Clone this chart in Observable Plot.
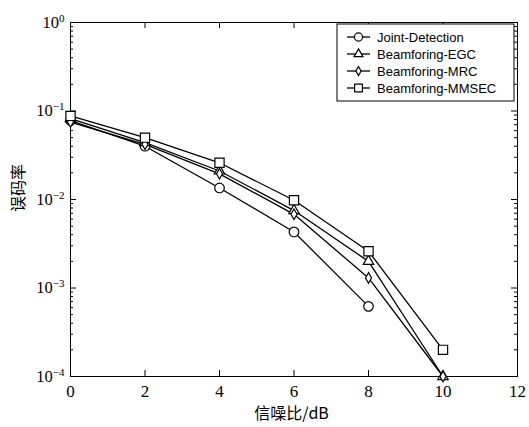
<!DOCTYPE html>
<html><head><meta charset="utf-8">
<script src="https://cdn.jsdelivr.net/npm/d3@7"></script>
<script src="https://cdn.jsdelivr.net/npm/@observablehq/plot@0.6"></script>
<style>
body{margin:0;background:#fff;}
#chart{width:529px;height:427px;}
</style></head><body><div id="chart"></div>
<script>
// ---- data ----
const snr = [0, 2, 4, 6, 8, 10];
const seriesNames = ["Joint-Detection", "Beamforing-EGC", "Beamforing-MRC", "Beamforing-MMSEC"];
const jointDetection = [0.078, 0.040, 0.0135, 0.0043, 0.00062];
const egc = [0.082, 0.044, 0.021, 0.0075, 0.0020, 0.0001];
const mrc = [0.075, 0.042, 0.0195, 0.0068, 0.0013, 0.0001];
const mmsec = [0.088, 0.050, 0.026, 0.0098, 0.0026, 0.0002];
const xTicks = [0, 2, 4, 6, 8, 10, 12];
const yTicks = [1, 0.1, 0.01, 0.001, 0.0001];
const yTickLabels = ["10^0", "10^-1", "10^-2", "10^-3", "10^-4"];
const xLabel = "信噪比/dB";
const yLabel = "误码率";

// ---- styling ----
const symbols = ["circle", "triangle", "diamond", "square"];
const radii = [4.8, 3.9, 3.2, 5.2];
const W = 529, H = 427, mL = 70, mR = 12, mT = 22, mB = 51;
const plotW = W - mL - mR, plotH = H - mT - mB;

const allSeries = [jointDetection, egc, mrc, mmsec];
const rows = [];
allSeries.forEach((vals, s) => vals.forEach((v, i) => rows.push({series: seriesNames[s], s, x: snr[i], y: v})));

const yMinor = [];
for (let e = -4; e < 0; e++) for (let m = 2; m <= 9; m++) yMinor.push(m * Math.pow(10, e));

const marks = [
  Plot.frame({stroke: "black", strokeWidth: 1}),
  // inward ticks (MATLAB style)
  Plot.tickX(xTicks, {x: d => d, insetTop: plotH - 6, stroke: "black"}),
  Plot.tickX(xTicks, {x: d => d, insetBottom: plotH - 6, stroke: "black"}),
  Plot.tickY(yTicks, {y: d => d, insetRight: plotW - 6, stroke: "black"}),
  Plot.tickY(yTicks, {y: d => d, insetLeft: plotW - 6, stroke: "black"}),
  Plot.tickY(yMinor, {y: d => d, insetRight: plotW - 3, stroke: "black"}),
  Plot.tickY(yMinor, {y: d => d, insetLeft: plotW - 3, stroke: "black"}),
  Plot.axisX({ticks: xTicks, tickSize: 0, tickPadding: 8, fontSize: 17, label: null}),
  Plot.axisY({ticks: yTicks, tickSize: 0, tickPadding: 6, fontSize: 16.5, label: null,
    tickFormat: d => yTickLabels[yTicks.findIndex(t => Math.abs(Math.log10(t) - Math.log10(d)) < 1e-6)]}),
  Plot.line(rows, {x: "x", y: "y", z: "series", stroke: "black", strokeWidth: 1.3})
];
symbols.forEach((sym, s) => {
  marks.push(Plot.dot(rows.filter(d => d.s === s), {x: "x", y: "y", symbol: sym, r: radii[s], fill: "white", stroke: "black", strokeWidth: 1.2}));
});

const chart = Plot.plot({
  width: W, height: H,
  marginLeft: mL, marginRight: mR, marginTop: mT, marginBottom: mB,
  style: {fontFamily: "Liberation Serif", background: "white", color: "black"},
  x: {domain: [0, 12], axis: null},
  y: {type: "log", domain: [1e-4, 1], axis: null},
  marks
});
document.getElementById("chart").appendChild(chart);
const svg = d3.select(chart);

// superscript exponents on y tick labels
svg.selectAll('[aria-label="y-axis tick label"] text').each(function () {
  const t = d3.select(this);
  const parts = t.text().split("^");
  if (parts.length !== 2) return;
  t.text(parts[0]);
  t.append("tspan").attr("dy", "-0.55em").attr("font-size", "11px").text(parts[1].replace("-", "\u2212"));
});

// axis titles
svg.append("text").attr("x", mL + plotW / 2 - 2).attr("y", 413).attr("dy", "0.35em")
  .attr("text-anchor", "middle").attr("font-family", "Noto Sans CJK SC").attr("font-size", 16).attr("fill", "black").text(xLabel);
svg.append("text").attr("transform", "translate(18,188) rotate(-90)").attr("dy", "0.35em")
  .attr("text-anchor", "middle").attr("font-family", "Noto Sans CJK SC").attr("font-size", 16).attr("fill", "black").text(yLabel);

// legend
const lg = svg.append("g").attr("transform", `translate(337,24)`);
lg.append("rect").attr("width", 177).attr("height", 77).attr("fill", "white").attr("stroke", "black").attr("stroke-width", 1);
seriesNames.forEach((name, s) => {
  const yy = 13 + s * 17;
  lg.append("line").attr("x1", 10).attr("x2", 33).attr("y1", yy).attr("y2", yy).attr("stroke", "black").attr("stroke-width", 1.3);
  const typ = {circle: d3.symbolCircle, triangle: d3.symbolTriangle, diamond: d3.symbolDiamond, square: d3.symbolSquare}[symbols[s]];
  const rl = radii[s] * 0.85;
  lg.append("path").attr("transform", `translate(21.5,${yy})`)
    .attr("d", d3.symbol(typ, rl * rl * Math.PI)())
    .attr("fill", "white").attr("stroke", "black").attr("stroke-width", 1.2);
  lg.append("text").attr("x", 40).attr("y", yy).attr("dy", "0.35em").attr("text-anchor", "start")
    .attr("font-family", "Liberation Sans").attr("font-size", 13).attr("fill", "black").text(name);
});
</script>
</body></html>
